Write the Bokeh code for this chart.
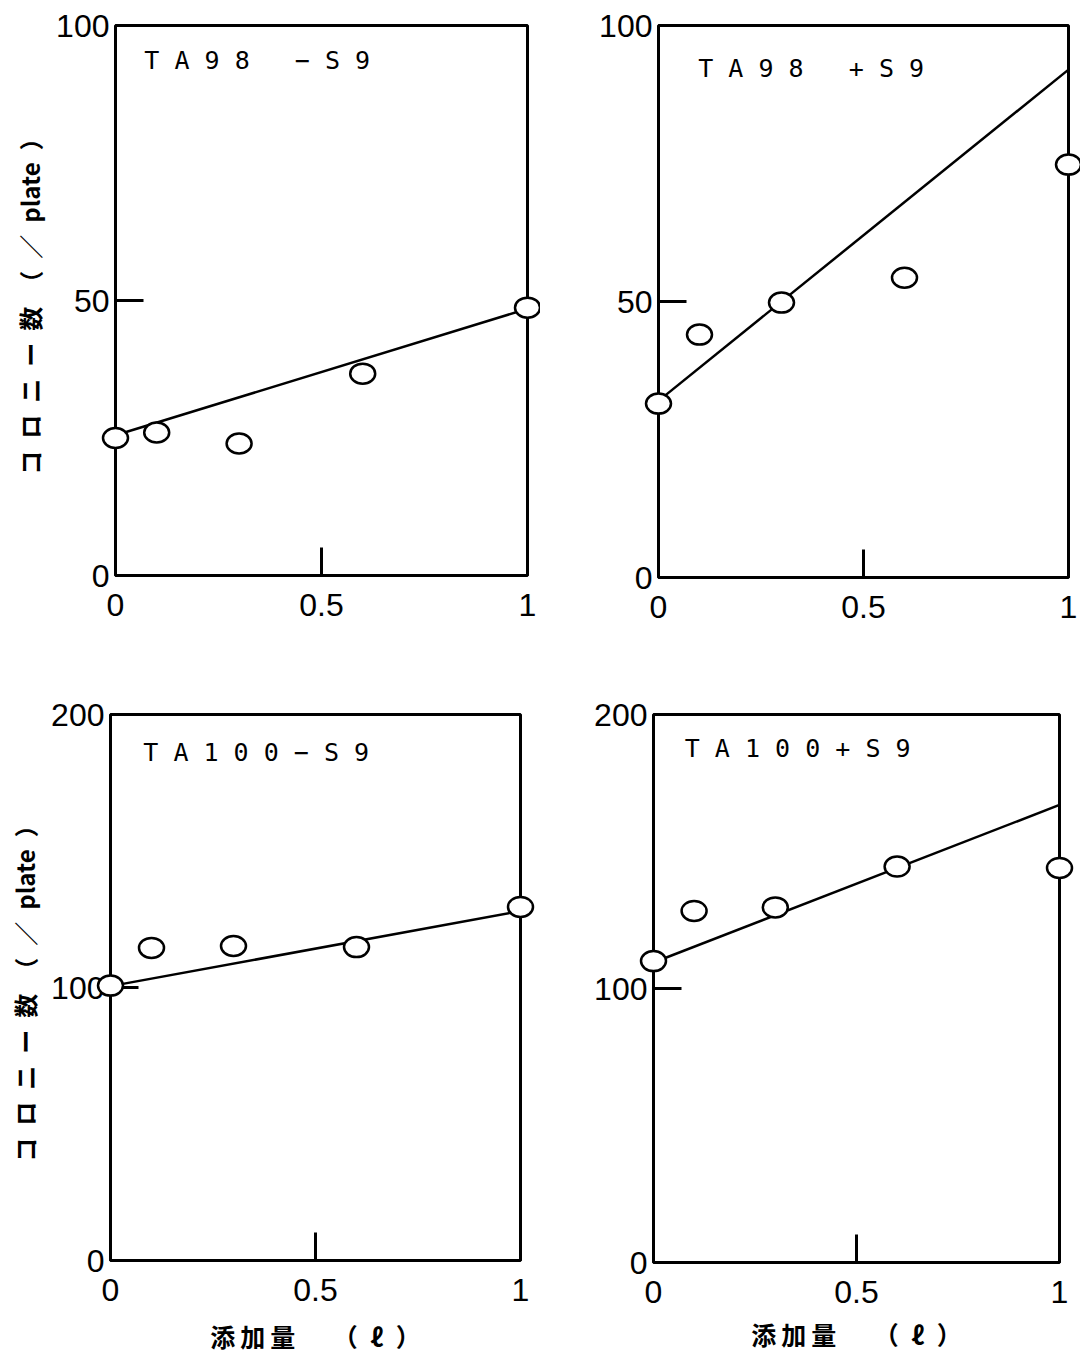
from bokeh.plotting import figure
from bokeh.layouts import column, row
from bokeh.models import Label, FixedTicker, Range1d
from bokeh.embed import file_html
from bokeh.resources import INLINE

# ---- data ----
dose = [0, 0.1, 0.3, 0.6, 1.0]
ta98_minus_s9 = [25.0, 26.0, 24.0, 36.7, 48.7]
ta98_plus_s9 = [31.5, 44.0, 49.8, 54.3, 74.8]
ta100_minus_s9 = [100.7, 114.5, 115.2, 114.8, 129.5]
ta100_plus_s9 = [110.0, 128.3, 129.6, 144.5, 144.0]

fit_dose = [0, 1]
ta98_minus_fit = [25.5, 48.5]
ta98_plus_fit = [32.0, 92.0]
ta100_minus_fit = [100.5, 128.0]
ta100_plus_fit = [109.5, 167.0]

NB = "\u00a0"
panel_titles = [NB.join("TA98") + NB * 3 + NB.join("\u2212S9"),
                NB.join("TA98") + NB * 3 + NB.join("+S9"),
                NB.join("TA100\u2212S9"),
                NB.join("TA100+S9")]
x_ticks = [0, 0.5, 1]
x_tick_labels = {0: "0", 0.5: "0.5", 1: "1"}
y_ticks_98 = [0, 50, 100]
y_ticks_100 = [0, 100, 200]
y_title = "\u2002".join(["コ", "ロ", "ニ", "ー", "数", "（", "／", "plate", "）"])
x_title = "添\u2009加\u2009量\u3000\u2002（\u2002ℓ\u2002）"

TICK_FONT = "Liberation Sans"
CJK_FONT = "Noto Sans CJK JP"


def panel(ys, fit, ymax, yticks, title, tpos, borders, frame, ylab, xlab, xstand=14):
    bl, br, bt, bb = borders
    fw, fh = frame
    p = figure(frame_width=fw, frame_height=fh,
               x_range=Range1d(0, 1), y_range=Range1d(0, ymax),
               min_border_left=bl, min_border_right=br,
               min_border_top=bt, min_border_bottom=bb,
               output_backend="svg", toolbar_location=None)
    p.grid.visible = False
    p.outline_line_color = "black"
    p.outline_line_width = 3
    p.background_fill_color = "white"
    p.border_fill_color = "white"

    p.xaxis.ticker = FixedTicker(ticks=x_ticks)
    p.xaxis.major_label_overrides = x_tick_labels
    p.yaxis.ticker = FixedTicker(ticks=yticks)
    for ax in (p.xaxis[0], p.yaxis[0]):
        ax.axis_line_color = None
        ax.major_tick_in = 28
        ax.major_tick_out = 0
        ax.major_tick_line_width = 3
        ax.major_tick_line_color = "black"
        ax.minor_tick_line_color = None
        ax.major_label_text_font = TICK_FONT
        ax.major_label_text_font_size = "32px"
        ax.major_label_text_color = "black"
    p.yaxis.major_label_standoff = 6
    p.xaxis.major_label_standoff = 18

    if ylab:
        p.yaxis.axis_label = y_title
        p.yaxis.axis_label_text_font = CJK_FONT
        p.yaxis.axis_label_text_font_size = "24px"
        p.yaxis.axis_label_text_font_style = "bold"
        p.yaxis.axis_label_text_color = "black"
        p.yaxis.axis_label_standoff = 6
    if xlab:
        p.xaxis.axis_label = x_title
        p.xaxis.axis_label_text_font = CJK_FONT
        p.xaxis.axis_label_text_font_size = "25px"
        p.xaxis.axis_label_text_font_style = "bold"
        p.xaxis.axis_label_text_color = "black"
        p.xaxis.axis_label_standoff = xstand

    p.line(fit_dose, fit, line_color="black", line_width=2.5)
    r = p.ellipse(x=dose, y=ys, width=25, height=20,
                  width_units="screen", height_units="screen",
                  fill_color="white", line_color="black", line_width=2.5)
    r.level = "overlay"

    p.add_layout(Label(x=tpos[0], y=tpos[1], text=title,
                       text_font="DejaVu Sans Mono", text_font_size="25px",
                       text_baseline="middle", text_color="black"))
    return p


# borders: (left, right, top, bottom); frame: (width, height)
p1 = panel(ta98_minus_s9, ta98_minus_fit, 100, y_ticks_98, panel_titles[0],
           (0.07, 93.6), (115, 13, 25, 85), (412, 550), True, False)
p2 = panel(ta98_plus_s9, ta98_plus_fit, 100, y_ticks_98, panel_titles[1],
           (0.097, 92.2), (118, 12, 23, 85), (410, 552), False, False)
p3 = panel(ta100_minus_s9, ta100_minus_fit, 200, y_ticks_100, panel_titles[2],
           (0.08, 186), (110, 20, 52, 106), (410, 546), True, True, 14)
p4 = panel(ta100_plus_s9, ta100_plus_fit, 200, y_ticks_100, panel_titles[3],
           (0.077, 187.6), (113, 21, 54, 102), (406, 548), False, True, 10)

layout = column(row(p1, p2), row(p3, p4))

open("out.html", "w").write(file_html(layout, INLINE))
